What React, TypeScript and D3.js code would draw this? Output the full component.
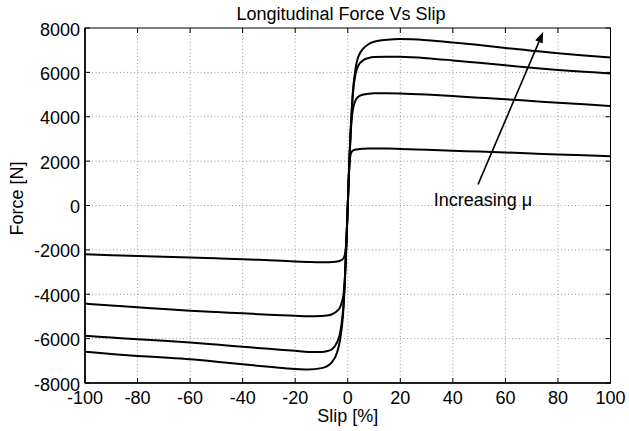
import React from "react";
import * as d3 from "d3";

const slip = [-100,-90,-80,-70,-60,-50,-40,-30,-20,-15,-10,-8,-6,-4,-3,-2,-1.5,-1,-0.5,0,0.5,1,1.5,2,3,4,6,8,10,15,20,30,40,50,60,70,80,90,100];

const forceMu1 = [-2200,-2240,-2280,-2310,-2340,-2380,-2420,-2470,-2520,-2545,-2560,-2560,-2550,-2525,-2490,-2430,-2350,-2150,-1500,0,1500,2250,2420,2480,2520,2540,2555,2565,2570,2565,2550,2510,2470,2430,2390,2345,2300,2260,2220];
const forceMu2 = [-4420,-4510,-4590,-4670,-4740,-4800,-4860,-4920,-4970,-4990,-4980,-4960,-4900,-4750,-4600,-4250,-3900,-3050,-1600,0,1600,3000,3900,4350,4750,4900,5000,5040,5055,5060,5050,5000,4930,4860,4790,4710,4630,4560,4480];
const forceMu3 = [-5870,-5950,-6030,-6100,-6180,-6270,-6365,-6460,-6550,-6600,-6600,-6570,-6480,-6150,-5800,-5000,-4300,-3100,-1650,0,1650,3100,4200,5100,5950,6300,6560,6650,6690,6705,6700,6640,6540,6430,6320,6210,6110,6030,5950];
const forceMu4 = [-6590,-6690,-6780,-6850,-6930,-7040,-7160,-7270,-7370,-7390,-7330,-7250,-7060,-6600,-6100,-5200,-4400,-3150,-1650,0,1650,3150,4300,5200,6200,6700,7080,7280,7380,7470,7500,7450,7350,7230,7100,6980,6860,6760,6670];

const curves = [forceMu1, forceMu2, forceMu3, forceMu4];

const xTicks = [-100,-80,-60,-40,-20,0,20,40,60,80,100];
const yTicks = [-8000,-6000,-4000,-2000,0,2000,4000,6000,8000];

const titleText = "Longitudinal Force Vs Slip";
const xLabel = "Slip [%]";
const yLabel = "Force [N]";
const annotationText = "Increasing \u03bc";
const arrowTail = [49.6, 950];
const arrowHead = [74.4, 7830];
const annotationPos = [32.7, -20];

const W = 629, H = 431;
const L = 85, R = 610.5, T = 28, B = 383;

export default function App() {
  const x = d3.scaleLinear().domain([-100, 100]).range([L, R]);
  const y = d3.scaleLinear().domain([-8000, 8000]).range([B, T]);
  const line = d3.line<number>()
    .x((_, i) => x(slip[i]))
    .y((d) => y(d))
    .curve(d3.curveMonotoneX);
  const font = "'Liberation Sans', Arial, Helvetica, sans-serif";

  const tx = x(arrowTail[0]), ty = y(arrowTail[1]);
  const hx = x(arrowHead[0]), hy = y(arrowHead[1]);
  const ang = Math.atan2(hy - ty, hx - tx);
  const headLen = 11, headW = 4;
  const bx = hx - headLen * Math.cos(ang), by = hy - headLen * Math.sin(ang);
  const px = -Math.sin(ang) * headW, py = Math.cos(ang) * headW;

  return (
    <svg width={W} height={H} style={{ position: "absolute", left: 0, top: 0, background: "#fff" }} fontFamily={font}>
      <rect x={0} y={0} width={W} height={H} fill="#fff" />
      {/* grid */}
      <g stroke="#9a9a9a" strokeWidth={1} strokeDasharray="1,2.5">
        {xTicks.slice(1, -1).map((t) => (
          <line key={"gx" + t} x1={x(t)} x2={x(t)} y1={T} y2={B} />
        ))}
        {yTicks.slice(1, -1).map((t) => (
          <line key={"gy" + t} x1={L} x2={R} y1={y(t)} y2={y(t)} />
        ))}
      </g>
      {/* ticks */}
      <g stroke="#000" strokeWidth={1}>
        {xTicks.map((t) => (
          <g key={"tx" + t}>
            <line x1={x(t)} x2={x(t)} y1={B} y2={B - 5} />
            <line x1={x(t)} x2={x(t)} y1={T} y2={T + 5} />
          </g>
        ))}
        {yTicks.map((t) => (
          <g key={"ty" + t}>
            <line x1={L} x2={L + 5} y1={y(t)} y2={y(t)} />
            <line x1={R} x2={R - 5} y1={y(t)} y2={y(t)} />
          </g>
        ))}
      </g>
      {/* curves */}
      <g fill="none" stroke="#000" strokeWidth={2} strokeLinejoin="round">
        {curves.map((c, i) => (
          <path key={"c" + i} d={line(c) || ""} />
        ))}
      </g>
      {/* box */}
      <rect x={L} y={T} width={R - L} height={B - T} fill="none" stroke="#000" strokeWidth={1} />
      <line x1={L} x2={L} y1={T} y2={B} stroke="#000" strokeWidth={1.6} />
      <line x1={L} x2={R} y1={B} y2={B} stroke="#000" strokeWidth={1.6} />
      {/* tick labels */}
      <g fontSize={18} fill="#000">
        {xTicks.map((t) => (
          <text key={"lx" + t} x={x(t)} y={404} textAnchor="middle">{t}</text>
        ))}
        {yTicks.map((t) => (
          <text key={"ly" + t} x={80} y={y(t) + 7.5} textAnchor="end">{t}</text>
        ))}
      </g>
      {/* labels */}
      <text x={341} y={19.5} fontSize={18} textAnchor="middle">{titleText}</text>
      <text x={x(0)} y={422} fontSize={18} textAnchor="middle">{xLabel}</text>
      <text transform={`translate(22.5,${198.5}) rotate(-90)`} fontSize={18} textAnchor="middle">{yLabel}</text>
      {/* annotation */}
      <line x1={tx} y1={ty} x2={bx} y2={by} stroke="#000" strokeWidth={1.6} />
      <path d={`M${hx},${hy}L${bx + px},${by + py}L${bx - px},${by - py}Z`} fill="#000" />
      <text x={x(annotationPos[0])} y={y(annotationPos[1])} fontSize={18}>{annotationText}</text>
    </svg>
  );
}
